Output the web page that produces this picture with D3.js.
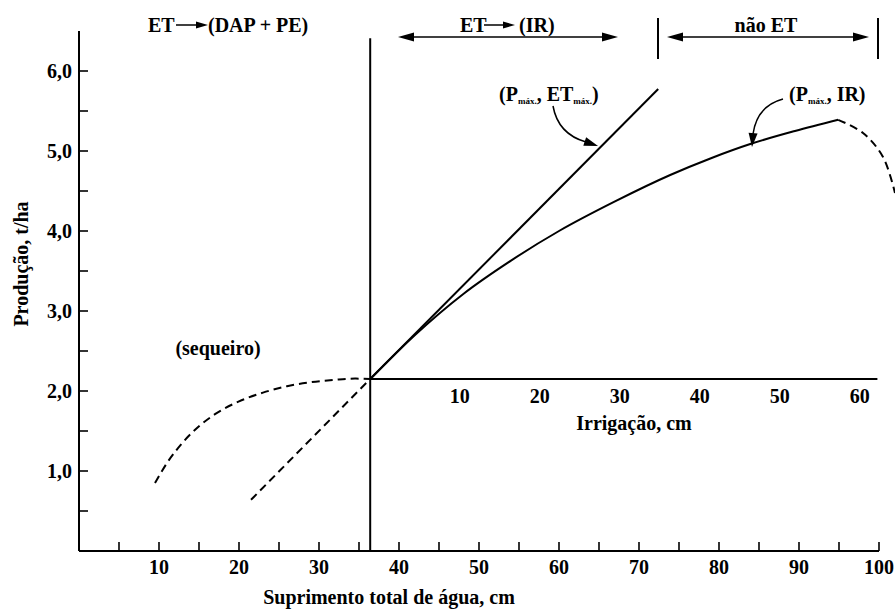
<!DOCTYPE html>
<html><head><meta charset="utf-8">
<script src="https://cdn.jsdelivr.net/npm/d3@7/dist/d3.min.js"></script>
<style>
body{margin:0;background:#fff}
svg{display:block}
</style>
</head><body><svg id="c" width="895" height="610"></svg>
<script>
// ---- data ----
const xTickValues = d3.range(5, 101, 5);
const xTickLabels = [10, 20, 30, 40, 50, 60, 70, 80, 90, 100];
const yTickValues = d3.range(0.5, 6.01, 0.5);
const yTickLabels = ["1,0", "2,0", "3,0", "4,0", "5,0", "6,0"];
const yLabelValues = [1, 2, 3, 4, 5, 6];
const irrTickLabels = [10, 20, 30, 40, 50, 60];
const pivot = [36.4, 2.15];
const etMaxLine = [[36.4, 2.15], [72.4, 5.775]];
const etMaxExtension = [[21.5, 0.64], [36.4, 2.15]];
const irCurve = [[36.4, 2.15], [42.0, 2.70], [48.0, 3.21], [54.0, 3.63], [60.0, 4.00], [67.0, 4.37],
                 [73.9, 4.70], [79.0, 4.91], [84.0, 5.09], [89.5, 5.25], [94.9, 5.39]];
const irDecline = [[94.9, 5.39], [98.0, 5.225], [100.5, 4.925], [102.0, 4.475]];
const sequeiroCurve = [[9.5, 0.85], [11.0, 1.10], [13.0, 1.36], [15.0, 1.56], [17.0, 1.71], [20.0, 1.87],
                       [23.0, 1.98], [26.0, 2.06], [29.0, 2.11], [32.0, 2.14], [34.5, 2.155], [36.4, 2.15]];

// ---- setup ----
const FONT = "'Liberation Serif', 'DejaVu Serif', 'Noto Serif', serif";
const svg = d3.select("#c");
const x = d3.scaleLinear().domain([0, 100]).range([79, 879]);
const y = d3.scaleLinear().domain([0, 6.5]).range([551, 31]);
const irrX = d3.scaleLinear().domain([0, 60]).range([x(37.6), x(97.6)]);

// calibrate font size so that text widths match the reference whatever serif face resolves
const probe = svg.append("text").style("font-family", FONT).style("font-weight", "bold").attr("font-size", 20)
  .text("Suprimento total de água, cm");
let measured = 253;
try { measured = probe.node().getComputedTextLength() || 253; } catch (e) {}
probe.remove();
const K = Math.min(1, 253 / measured);
const FS = 20 * K;

function txt(xp, yp, s, anchor, size) {
  return svg.append("text").attr("x", xp).attr("y", yp).attr("text-anchor", anchor || "start")
    .style("font-family", FONT).style("font-weight", "bold").attr("font-size", size || FS).text(s);
}
function seg(x1, y1, x2, y2, w) {
  return svg.append("line").attr("x1", x1).attr("y1", y1).attr("x2", x2).attr("y2", y2)
    .attr("stroke", "#000").attr("stroke-width", w || 2);
}
function head(xt, yt, ang, len, half) {
  const c = Math.cos(ang), s = Math.sin(ang);
  const bx = xt - c * len, by = yt - s * len;
  const pts = [[xt, yt], [bx - s * half, by + c * half], [bx + s * half, by - c * half]];
  svg.append("path").attr("d", "M" + pts.map(p => p.join(",")).join("L") + "Z").attr("fill", "#000");
}

// ---- texts ----
txt(389, 604, "Suprimento total de água, cm", "middle");
svg.append("text").attr("transform", "translate(28,264) rotate(-90)").attr("text-anchor", "middle")
  .style("font-family", FONT).style("font-weight", "bold").attr("font-size", FS).text("Produção, t/ha");
txt(634, 430, "Irrigação, cm", "middle");
txt(218, 355, "(sequeiro)", "middle");

// ---- axes (from scales) ----
seg(x(0), y(6.5), x(0), y(0));
seg(x(0), y(0), x(100), y(0));
yTickValues.forEach(v => seg(x(0), y(v), x(0) + 9, y(v), 1.6));
xTickValues.forEach(v => seg(x(v), y(0), x(v), y(0) - 9, 1.6));
yLabelValues.forEach((v, i) => txt(x(0) - 7, y(v) + 7, yTickLabels[i], "end"));
xTickLabels.forEach(v => txt(x(v), y(0) + 23, v, "middle"));

// vertical line through pivot and irrigation axis
seg(x(pivot[0]), y(6.41), x(pivot[0]), y(0));
seg(x(pivot[0]), y(pivot[1]), x(99.8), y(pivot[1]));
irrTickLabels.forEach(v => txt(irrX(v), y(pivot[1]) + 24, v, "middle"));

// ---- curves ----
const line = d3.line().x(d => x(d[0])).y(d => y(d[1]));
const smooth = d3.line().x(d => x(d[0])).y(d => y(d[1])).curve(d3.curveMonotoneX);
const smoothCR = d3.line().x(d => x(d[0])).y(d => y(d[1])).curve(d3.curveCatmullRom);

svg.append("path").attr("d", line(etMaxLine)).attr("fill", "none").attr("stroke", "#000").attr("stroke-width", 2);
svg.append("path").attr("d", line(etMaxExtension)).attr("fill", "none").attr("stroke", "#000").attr("stroke-width", 2).attr("stroke-dasharray", "8,5");
svg.append("path").attr("d", smooth(irCurve)).attr("fill", "none").attr("stroke", "#000").attr("stroke-width", 2);
svg.append("path").attr("d", smoothCR(irDecline)).attr("fill", "none").attr("stroke", "#000").attr("stroke-width", 2).attr("stroke-dasharray", "8,5");
svg.append("path").attr("d", smooth(sequeiroCurve)).attr("fill", "none").attr("stroke", "#000").attr("stroke-width", 2).attr("stroke-dasharray", "8,5");

// ---- top annotations ----
txt(148, 32, "ET");
seg(176, 25, 198, 25, 1.5); head(208, 25, 0, 12, 3.5);
txt(208, 32, "(DAP + PE)");
txt(460, 32, "ET");
seg(484, 25, 505, 25, 1.5); head(515, 25, 0, 12, 3.5);
txt(519, 32, "(IR)");
seg(410, 37, 606, 37, 1.5); head(398, 37, Math.PI, 16, 4.5); head(618, 37, 0, 16, 4.5);
txt(766, 32, "não ET", "middle");
seg(679, 37, 857, 37, 1.5); head(667, 37, Math.PI, 16, 4.5); head(869, 37, 0, 16, 4.5);
[658, 878].forEach(xp => seg(xp, 18, xp, 59, 2));

// point labels with subscripts
function pLabel(xp, yp, parts) {
  const t = svg.append("text").attr("x", xp).attr("y", yp)
    .style("font-family", FONT).style("font-weight", "bold").attr("font-size", FS);
  parts.forEach(p => {
    const ts = t.append("tspan").text(p.s);
    if (p.sub) ts.attr("font-size", 9 * K).attr("dy", 3);
    else if (p.back) ts.attr("dy", -3);
  });
}
pLabel(499, 101, [{s: "(P"}, {s: "máx.", sub: true}, {s: ", ET", back: true}, {s: "máx.", sub: true}, {s: ")", back: true}]);
pLabel(789, 101, [{s: "(P"}, {s: "máx.", sub: true}, {s: ", IR)", back: true}]);

// curved pointer arrows
svg.append("path").attr("d", "M553,106 Q558,134 586,142").attr("fill", "none").attr("stroke", "#000").attr("stroke-width", 1.5);
head(598, 146, Math.atan2(4, 12), 14, 4.5);
svg.append("path").attr("d", "M783,99 Q757,106 753,134").attr("fill", "none").attr("stroke", "#000").attr("stroke-width", 1.5);
head(752, 147, Math.atan2(13, -1), 14, 4.5);
</script>
</body></html>
